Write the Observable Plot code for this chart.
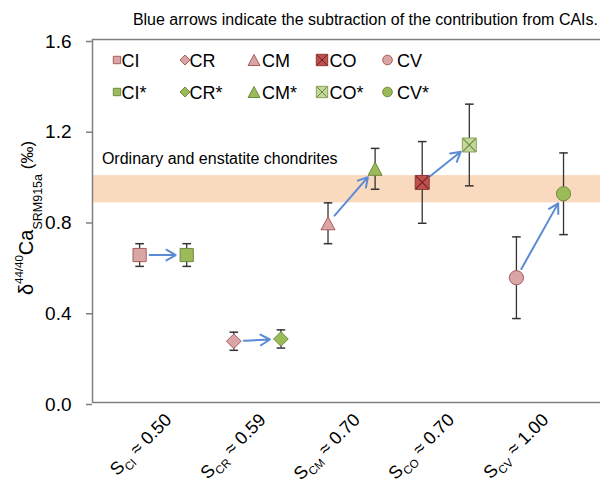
<!DOCTYPE html>
<html><head><meta charset="utf-8">
<script src="https://cdn.jsdelivr.net/npm/d3@7"></script>
<script src="https://cdn.jsdelivr.net/npm/@observablehq/plot@0.6"></script>
<style>
body{margin:0;background:#fff;}
#chart svg{display:block;}
</style>
</head><body><div id="chart"></div>
<script>
// ---- data ----
const groups = ["CI", "CR", "CM", "CO", "CV"];
const sValues = ["0.50", "0.59", "0.70", "0.70", "1.00"];
const samples = ["CI", "CI*", "CR", "CR*", "CM", "CM*", "CO", "CO*", "CV", "CV*"];
const delta = [0.65, 0.65, 0.27, 0.28, 0.79, 1.03, 0.97, 1.135, 0.55, 0.92];
const err = [0.05, 0.05, 0.04, 0.04, 0.09, 0.09, 0.18, 0.18, 0.18, 0.18];
const band = [0.88, 1.00];
const yTicks = [0, 0.4, 0.8, 1.2, 1.6];
const title = "Blue arrows indicate the subtraction of the contribution from CAIs.";
const bandLabel = "Ordinary and enstatite chondrites";

// ---- derived tables ----
const rows = samples.map((name, i) => ({
  name, group: groups[Math.floor(i / 2)], corrected: i % 2 === 1,
  x: i + 1, y: delta[i], lo: delta[i] - err[i], hi: delta[i] + err[i]
}));
const arrows = groups.map((g, k) => ({x1: 2 * k + 1, y1: delta[2 * k], x2: 2 * k + 2, y2: delta[2 * k + 1]}));
const groupCenters = groups.map((g, k) => 2 * k + 1.5);

// ---- symbols ----
const half = s => Math.sqrt(s / Math.PI);
const symSquare = {draw(c, s) { const r = half(s); c.moveTo(-r, -r); c.lineTo(r, -r); c.lineTo(r, r); c.lineTo(-r, r); c.closePath(); }};
const symDiamond = {draw(c, s) { const r = half(s); c.moveTo(0, -r); c.lineTo(r, 0); c.lineTo(0, r); c.lineTo(-r, 0); c.closePath(); }};
const symTriangle = {draw(c, s) { const r = half(s); const h = r * 0.93; c.moveTo(0, -h); c.lineTo(r, h); c.lineTo(-r, h); c.closePath(); }};
const symCircle = {draw(c, s) { const r = half(s); c.moveTo(r, 0); c.arc(0, 0, r, 0, 2 * Math.PI); }};
const symTimes = {draw(c, s) { const r = half(s); c.moveTo(-r, -r); c.lineTo(r, r); c.moveTo(r, -r); c.lineTo(-r, r); }};
const symCap = {draw(c, s) { const r = half(s); c.moveTo(-r, 0); c.lineTo(r, 0); }};

const groupStyle = {
  CI: {sym: symSquare, r: 6.6, lr: 3.7},
  CR: {sym: symDiamond, r: 7.3, lr: 5},
  CM: {sym: symTriangle, r: 7, lr: 5.9},
  CO: {sym: symSquare, r: 7, lr: 5.7, times: true},
  CV: {sym: symCircle, r: 7.1, lr: 4.8}
};
const pink = {fill: "#d9a5a5", stroke: "#a85c5c"};
const green = {fill: "#9bbb59", stroke: "#71893f"};
const coPink = {fill: "#c0504d", stroke: "#8c3a38", x: "#6e2624"};
const coGreen = {fill: "#c3d69b", stroke: "#8aa35a", x: "#6f8c3c"};
function colorsFor(group, corrected) {
  if (group === "CO") return corrected ? coGreen : coPink;
  return corrected ? green : pink;
}

const markerMarks = [];
rows.forEach(d => {
  const st = groupStyle[d.group];
  const col = colorsFor(d.group, d.corrected);
  markerMarks.push(Plot.dot([d], {x: "x", y: "y", symbol: st.sym, r: st.r, fill: col.fill, stroke: col.stroke, strokeWidth: 1}));
  if (st.times) markerMarks.push(Plot.dot([d], {x: "x", y: "y", symbol: symTimes, r: st.r * 0.9, fill: "none", stroke: col.x, strokeWidth: 1.1}));
});

const axisGray = "#7f7f7f";
const font = "'Liberation Sans', Arial, sans-serif";

const plot = Plot.plot({
  width: 600, height: 483,
  marginLeft: 92, marginRight: 0, marginTop: 39, marginBottom: 81,
  style: {fontFamily: font, fontSize: "16px", background: "#fff", color: "#000"},
  x: {domain: [0, 10.785], axis: null},
  y: {domain: [0, 1.6], axis: null},
  marks: [
    Plot.rect([{y1: band[0], y2: band[1]}], {y1: "y1", y2: "y2", fill: "#f9dabf"}),
    Plot.text([bandLabel], {x: 0.2, y: 1.075, textAnchor: "start", fontSize: 16, fill: "#000"}),
    Plot.ruleX(rows, {x: "x", y1: "lo", y2: "hi", stroke: "#333", strokeWidth: 1.3}),
    Plot.dot(rows, {x: "x", y: "lo", symbol: symCap, r: 4.3, fill: "none", stroke: "#333", strokeWidth: 1.5}),
    Plot.dot(rows, {x: "x", y: "hi", symbol: symCap, r: 4.3, fill: "none", stroke: "#333", strokeWidth: 1.5}),
    Plot.arrow(arrows, {x1: "x1", y1: "y1", x2: "x2", y2: "y2", insetStart: 10, insetEnd: 11, stroke: "#5b8bd4", strokeWidth: 2, headLength: 8}),
    ...markerMarks,
    Plot.axisY(yTicks, {tickFormat: d => d.toFixed(1), tickSize: 6, tickPadding: 15, fontSize: 19, stroke: axisGray, fill: "#000", strokeWidth: 1.5, label: null, dy: 2}),
    Plot.ruleX([0], {stroke: axisGray, strokeWidth: 1.5}),
    Plot.ruleY([0, 1.6], {stroke: axisGray, strokeWidth: 1.5})
  ]
});

const svg = d3.select(plot);
const xs = plot.scale("x"), ys = plot.scale("y");

// title
svg.append("text").attr("x", 598).attr("y", 25).attr("text-anchor", "end")
  .attr("font-size", 16).attr("fill", "#000").text(title);

// y label
const yl = svg.append("text").attr("transform", "translate(33,218) rotate(-90)")
  .attr("text-anchor", "middle").attr("fill", "#000");
yl.append("tspan").attr("font-size", 20).text("δ");
yl.append("tspan").attr("font-size", 11.5).attr("dy", -10).text("44/40");
yl.append("tspan").attr("font-size", 20).attr("dy", 10).text("Ca");
yl.append("tspan").attr("font-size", 12.5).attr("dy", 9).text("SRM915a");
yl.append("tspan").attr("font-size", 17).attr("dy", -9).text(" (‰)");

// x labels
groups.forEach((g, k) => {
  const px = xs.apply(groupCenters[k]) + 10;
  const py = ys.apply(0) + 19;
  const t = svg.append("text").attr("transform", `translate(${px},${py}) rotate(-45)`)
    .attr("text-anchor", "end").attr("fill", "#000").attr("font-size", 18);
  t.append("tspan").text("S");
  t.append("tspan").attr("font-size", 11.5).attr("dy", 5).text(g);
  t.append("tspan").attr("dy", -5).text(" ≈ " + sValues[k]);
});

// legend
const legSymX = [117, 185, 254, 322, 387.5];
const legTextX = [121.5, 189.5, 262, 329.5, 397];
const legRowY = [60, 92];
[false, true].forEach((corr, ri) => {
  groups.forEach((g, k) => {
    const st = groupStyle[g];
    const col = colorsFor(g, corr);
    const size = Math.PI * st.lr * st.lr;
    svg.append("path").attr("transform", `translate(${legSymX[k]},${legRowY[ri]})`)
      .attr("d", d3.symbol(st.sym, size)()).attr("fill", col.fill).attr("stroke", col.stroke).attr("stroke-width", 1);
    if (st.times) svg.append("path").attr("transform", `translate(${legSymX[k]},${legRowY[ri]})`)
      .attr("d", d3.symbol(symTimes, size * 0.81)()).attr("fill", "none").attr("stroke", col.x).attr("stroke-width", 1);
    svg.append("text").attr("x", legTextX[k]).attr("y", legRowY[ri] + 7).attr("font-size", 18).attr("fill", "#000")
      .attr("text-anchor", "start").text(g + (corr ? "*" : ""));
  });
});

document.getElementById("chart").appendChild(plot);
</script>
</body></html>
